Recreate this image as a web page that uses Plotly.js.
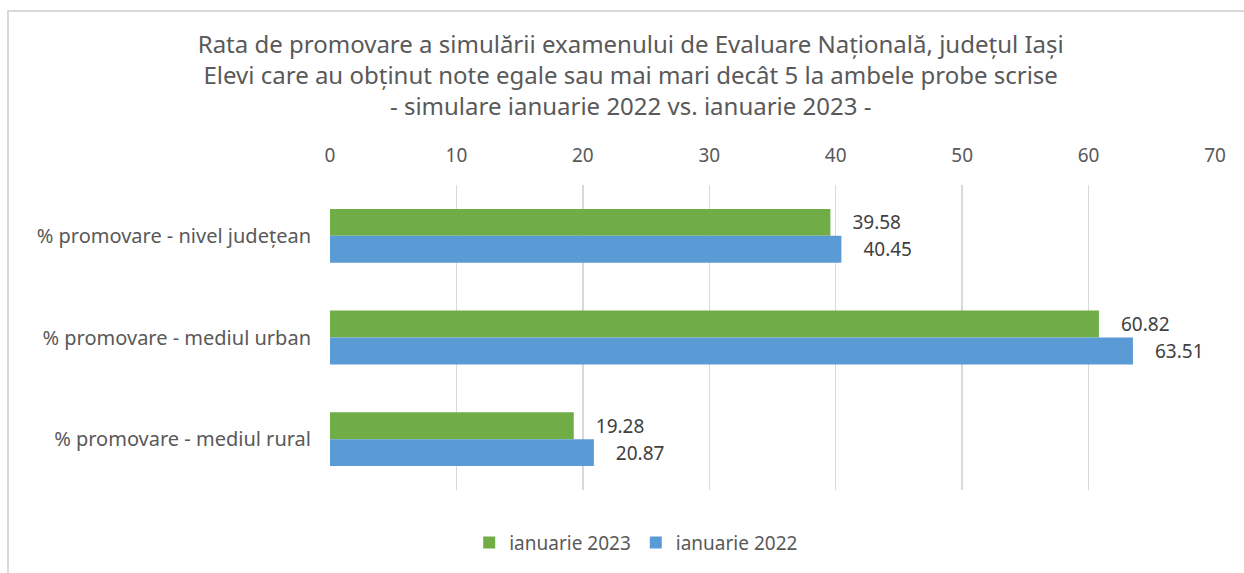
<!DOCTYPE html>
<html>
<head>
<meta charset="utf-8">
<script src="https://cdn.plot.ly/plotly-3.0.1.min.js"></script>
<style>
html,body{margin:0;padding:0;background:#fff;}
#wrap{position:relative;width:1244px;height:573px;overflow:hidden;}
#chart{width:1244px;height:573px;}
#frame{position:absolute;left:7px;top:10px;width:1300px;height:700px;border:2px solid #d9d9d9;box-sizing:border-box;pointer-events:none;}
</style>
</head>
<body>
<div id="wrap"><div id="chart"></div><div id="frame"></div></div>
<script>
const categories = ["% promovare - nivel județean", "% promovare - mediul urban", "% promovare - mediul rural"];
const series2023 = [39.58, 60.82, 19.28];
const series2022 = [40.45, 63.51, 20.87];
const seriesNames = ["ianuarie 2023", "ianuarie 2022"];
const titleLines = [
  "Rata de promovare a simulării examenului de Evaluare Națională, județul Iași",
  "Elevi care au obținut note egale sau mai mari decât 5 la ambele probe scrise",
  "- simulare ianuarie 2022 vs. ianuarie 2023 -"
];

const fontFam = "'Noto Sans', 'Open Sans', sans-serif";
const txtColor = "#595959";

function mk(vals, name, color) {
  return {
    type: 'bar', orientation: 'h', name: name,
    y: categories, x: vals,
    marker: {color: color},
    text: vals.map(v => v.toFixed(2)),
    texttemplate: '\u2002\u2002%{text}',
    textposition: 'outside',
    cliponaxis: false,
    textfont: {family: fontFam, size: 19, color: '#404040'},
    hoverinfo: 'x+y'
  };
}

const data = [
  mk(series2023, seriesNames[0], '#70ad47'),
  mk(series2022, seriesNames[1], '#5b9bd5')
];

const layout = {
  width: 1244, height: 573,
  paper_bgcolor: '#fff', plot_bgcolor: '#fff',
  margin: {l: 330, r: 29, t: 185, b: 83},
  font: {family: fontFam, color: txtColor},
  title: {
    text: titleLines.join('<br>'),
    font: {family: fontFam, size: 24, color: txtColor},
    x: 0.507, xanchor: 'center', y: 0.908, yanchor: 'top'
  },
  barmode: 'group',
  bargap: 0.47, bargroupgap: 0,
  xaxis: {
    side: 'top', range: [0, 70], dtick: 10, tick0: 0,
    showgrid: true, gridcolor: '#d9d9d9', gridwidth: 1.5,
    zeroline: false, showline: false, ticks: '',
    ticklabelstandoff: 18,
    tickfont: {family: fontFam, size: 19, color: txtColor},
    fixedrange: true
  },
  yaxis: {
    type: 'category', autorange: 'reversed',
    showgrid: false, zeroline: false, showline: false, ticks: '',
    ticklabelstandoff: 18,
    tickfont: {family: fontFam, size: 20, color: txtColor}
  },
  legend: {
    orientation: 'h', x: 0.346, xanchor: 'center', y: -0.11, yanchor: 'top',
    font: {family: fontFam, size: 19, color: txtColor},
    traceorder: 'normal', itemwidth: 30
  },
  showlegend: true
};

Plotly.newPlot('chart', data, layout, {displayModeBar: false, staticPlot: true});
</script>
</body>
</html>
